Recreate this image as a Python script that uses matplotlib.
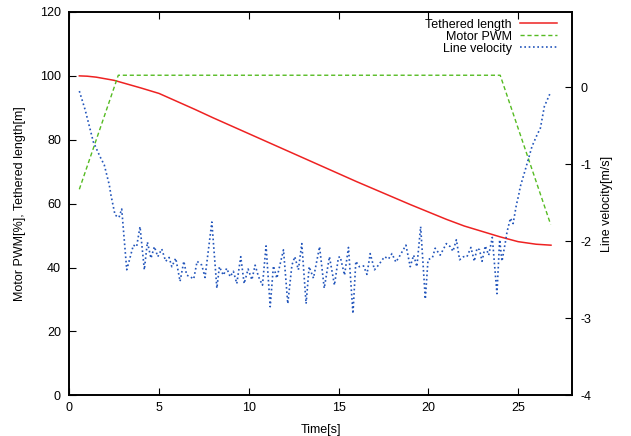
import matplotlib
matplotlib.use('Agg')
import matplotlib.pyplot as plt

plt.rcParams['font.family'] = ['Liberation Sans', 'DejaVu Sans']
plt.rcParams['axes.unicode_minus'] = False

# tethered length [m] (left axis)
t_len = [0.56, 1.0, 1.5, 2.0, 2.5, 3.0, 4.0, 5.0, 6.0, 7.0, 8.0, 9.0, 10.0,
         11.0, 12.0, 13.0, 14.0, 15.0, 16.0, 17.0, 18.0, 19.0, 20.0, 21.0,
         22.0, 23.0, 24.0, 25.0, 26.0, 26.83]
length = [100.0, 99.9, 99.6, 99.1, 98.6, 97.8, 96.2, 94.5, 92.0, 89.5, 86.9,
          84.4, 81.9, 79.4, 76.9, 74.4, 71.9, 69.4, 66.9, 64.5, 62.1, 59.7,
          57.4, 55.1, 53.0, 51.3, 49.6, 48.1, 47.3, 47.0]

# motor PWM [%] (left axis)
t_pwm = [0.56, 2.73, 24.0, 26.81]
pwm = [64.5, 100.2, 100.2, 53.5]

# line velocity [m/s] (right axis)
t_vel = [0.56, 0.88, 1.34, 1.71, 1.95, 2.23, 2.32, 2.55, 2.77, 2.92, 3.20,
         3.33, 3.57, 3.75, 3.94, 4.18, 4.35, 4.55, 4.74, 4.93, 5.15, 5.37,
         5.56, 5.71, 5.93, 6.17, 6.38, 6.54, 6.73, 6.93, 7.12, 7.38, 7.56,
         7.94, 8.22, 8.36, 8.58, 8.77, 8.96, 9.14, 9.33, 9.55, 9.74, 9.96,
         10.17, 10.35, 10.54, 10.76, 10.96, 11.19, 11.37, 11.56, 11.93, 12.17,
         12.40, 12.56, 12.76, 12.95, 13.19, 13.36, 13.60, 13.94, 14.20, 14.49,
         14.77, 14.99, 15.09, 15.33, 15.55, 15.80, 15.96, 16.15, 16.39, 16.58,
         16.76, 17.00, 17.22, 17.56, 17.78, 17.97, 18.19, 18.38, 18.75, 18.99,
         19.18, 19.36, 19.57, 19.83, 19.98, 20.23, 20.38, 20.66, 21.00, 21.22,
         21.37, 21.56, 21.74, 21.96, 22.15, 22.37, 22.56, 22.71, 22.85, 22.99,
         23.17, 23.36, 23.56, 23.82, 23.97, 24.10, 24.29, 24.38, 24.57, 24.72,
         24.90, 25.03, 25.12, 25.40, 25.77, 26.05, 26.24, 26.46, 26.76]
velocity = [-0.05, -0.29, -0.71, -0.90, -1.01, -1.27, -1.40, -1.66, -1.69,
            -1.58, -2.37, -2.26, -2.05, -2.07, -1.81, -2.37, -2.01, -2.22,
            -2.07, -2.20, -2.10, -2.26, -2.21, -2.33, -2.22, -2.52, -2.26,
            -2.44, -2.46, -2.49, -2.26, -2.31, -2.47, -1.75, -2.61, -2.33,
            -2.44, -2.35, -2.46, -2.39, -2.55, -2.20, -2.55, -2.36, -2.50,
            -2.31, -2.46, -2.57, -2.06, -2.85, -2.32, -2.48, -2.11, -2.81,
            -2.31, -2.20, -2.37, -2.03, -2.81, -2.33, -2.48, -2.07, -2.61,
            -2.20, -2.57, -2.21, -2.20, -2.44, -2.08, -2.94, -2.26, -2.33,
            -2.32, -2.43, -2.16, -2.37, -2.31, -2.20, -2.23, -2.16, -2.27,
            -2.20, -2.05, -2.33, -2.18, -2.33, -1.81, -2.75, -2.24, -2.21,
            -2.09, -2.18, -2.03, -2.07, -2.13, -1.98, -2.24, -2.20, -2.20,
            -2.08, -2.26, -2.09, -2.11, -2.26, -2.06, -2.18, -1.95, -2.68,
            -1.98, -2.26, -2.01, -1.88, -1.70, -1.77, -1.53, -1.40, -1.29,
            -1.07, -0.77, -0.62, -0.53, -0.25, -0.09]

fig = plt.figure(figsize=(6.31, 4.36), dpi=100)
ax = fig.add_axes([0.1098, 0.0933, 0.7967, 0.8792])
ax2 = ax.twinx()

l1, = ax.plot(t_len, length, color='#ee2222', lw=1.1, label='Tethered length')
l2, = ax.plot(t_pwm, pwm, color='#55bb22', lw=1.0, ls=(0, (3, 2)), label='Motor PWM')
l3, = ax2.plot(t_vel, velocity, color='#2255bb', lw=1.2, ls=(0, (1, 1.6)), label='Line velocity')

ax.set_xlim(0, 28)
ax.set_ylim(0, 120)
ax2.set_ylim(-4, 0.977)
ax.set_xticks(range(0, 30, 5))
ax.set_yticks(range(0, 121, 20))
ax2.set_yticks([-4, -3, -2, -1, 0])

ax.tick_params(axis='x', direction='in', top=True, length=5, labelsize=9, pad=5)
ax.tick_params(axis='y', direction='in', right=False, length=5, labelsize=9, pad=6)
ax2.tick_params(axis='y', direction='in', length=5, labelsize=9, pad=6)
for sp in ax.spines.values():
    sp.set_linewidth(1.2)
for sp in ax2.spines.values():
    sp.set_linewidth(1.2)

ax.set_xlabel('Time[s]', fontsize=9, labelpad=7)
ax.set_ylabel('Motor PWM[%], Tethered length[m]', fontsize=9, labelpad=10)
ax2.set_ylabel('Line velocity[m/s]', fontsize=9, labelpad=7)

ax.legend([l1, l2, l3], ['Tethered length', 'Motor PWM', 'Line velocity'],
          loc='upper right', bbox_to_anchor=(0.984, 1.0), frameon=False,
          markerfirst=False, fontsize=9, handlelength=3.0, handletextpad=0.6,
          labelspacing=0.0, borderaxespad=0.15)

fig.savefig('out.png', dpi=100)
